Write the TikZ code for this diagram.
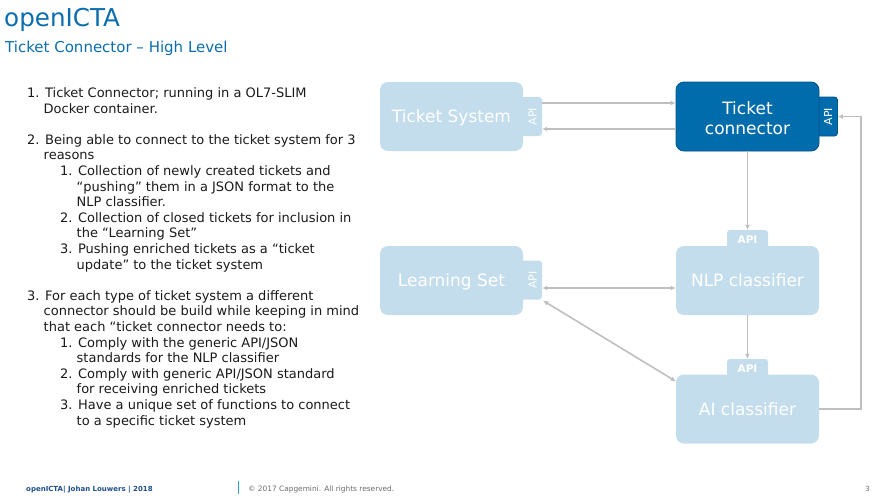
\documentclass[tikz,border=0pt]{standalone}
\usepackage{fontspec}
\setmainfont{DejaVu Sans}
\usetikzlibrary{arrows.meta}
\definecolor{titleblue}{HTML}{0B6DAE}
\definecolor{paleblue}{HTML}{C3DDEC}
\definecolor{deepblue}{HTML}{006CAB}
\definecolor{deepedge}{HTML}{00548A}
\definecolor{linkgray}{HTML}{BFBFBF}
\definecolor{bodytext}{HTML}{1A1A1A}
\definecolor{footblue}{HTML}{1F4E8C}
\definecolor{footrule}{HTML}{29A3DD}
\definecolor{footgray}{HTML}{6B6B6B}
\tikzset{
  box/.style={rectangle, rounded corners=8pt, minimum width=143pt, minimum height=69pt,
    inner sep=0pt, fill=paleblue, text=white, align=center, text depth=0pt,
    font=\fontsize{17}{20}\selectfont},
  darkbox/.style={box, fill=deepblue, draw=deepedge, line width=0.8pt},
  boxtext/.style={inner sep=0pt, text=white, align=center, font=\fontsize{17}{20}\selectfont},
  sidetab/.style={rectangle, rounded corners=3pt, minimum width=24pt, minimum height=39pt,
    inner sep=0pt, fill=paleblue},
  darktab/.style={sidetab, fill=deepblue, draw=deepedge, line width=0.8pt},
  toptab/.style={rectangle, rounded corners=3pt, minimum width=41pt, minimum height=24pt,
    inner sep=0pt, fill=paleblue},
  tablabel/.style={text=white, inner sep=0pt, font=\fontsize{11}{12}\selectfont},
  link/.style={draw=linkgray, line width=1.6pt, -{Latex[length=5pt,width=5pt]}},
  duallink/.style={link, {Latex[length=5pt,width=5pt]}-{Latex[length=5pt,width=5pt]}},
  bodyline/.style={anchor=base west, inner sep=0pt, text=bodytext,
    font=\fontsize{13}{15.6}\selectfont},
}
\begin{document}
\begin{tikzpicture}[x=1pt,y=-1pt]
\useasboundingbox (0,0) rectangle (886,498);

% heading
\node[anchor=base west, inner sep=0pt, text=titleblue, font=\fontsize{24.6}{28}\selectfont]
  (title) at (4,26.5) {openICTA};
\node[anchor=base west, inner sep=0pt, text=titleblue, font=\fontsize{15}{18}\selectfont]
  (subtitle) at (5,52.5) {Ticket Connector – High Level};

% numbered description
\node[bodyline] (t01) at (27,97.5)  {1. Ticket Connector; running in a OL7-SLIM};
\node[bodyline] (t02) at (43.5,113.1) {Docker container.};
\node[bodyline] (t03) at (27,144.3) {2. Being able to connect to the ticket system for 3};
\node[bodyline] (t04) at (43.5,159.9) {reasons};
\node[bodyline] (t05) at (60,175.5) {1. Collection of newly created tickets and};
\node[bodyline] (t06) at (76.5,191.1) {“pushing” them in a JSON format to the};
\node[bodyline] (t07) at (76.5,206.7) {NLP classifier.};
\node[bodyline] (t08) at (60,222.3) {2. Collection of closed tickets for inclusion in};
\node[bodyline] (t09) at (76.5,237.9) {the “Learning Set”};
\node[bodyline] (t10) at (60,253.5) {3. Pushing enriched tickets as a “ticket};
\node[bodyline] (t11) at (76.5,269.1) {update” to the ticket system};
\node[bodyline] (t12) at (27,300.3) {3. For each type of ticket system a different};
\node[bodyline] (t13) at (43.5,315.9) {connector should be build while keeping in mind};
\node[bodyline] (t14) at (43.5,331.5) {that each “ticket connector needs to:};
\node[bodyline] (t15) at (60,347.1) {1. Comply with the generic API/JSON};
\node[bodyline] (t16) at (76.5,362.7) {standards for the NLP classifier};
\node[bodyline] (t17) at (60,378.3) {2. Comply with generic API/JSON standard};
\node[bodyline] (t18) at (76.5,393.9) {for receiving enriched tickets};
\node[bodyline] (t19) at (60,409.5) {3. Have a unique set of functions to connect};
\node[bodyline] (t20) at (76.5,425.1) {to a specific ticket system};

% API tabs (drawn first, boxes overlap their inner edge)
\node[sidetab] (tsapi) at (530,116.5) {};
\node[darktab] (tcapi) at (825.5,116.5) {};
\node[sidetab] (lsapi) at (530,280) {};
\node[toptab]  (nlpapi) at (747.5,242) {};
\node[toptab]  (aiapi)  at (747.5,371) {};

% components
\node[box] (ts) at (451.5,116.5) {Ticket System};
\node[darkbox] (tc) at (747.5,116.5) {};
\node[boxtext] (tctxt) at (747.5,118) {Ticket\\connector};
\node[box] (ls) at (451.5,280.5) {Learning Set};
\node[box] (nlp) at (747.5,280.5) {NLP classifier};
\node[box] (ai) at (747.5,409) {AI classifier};

% tab captions
\node[tablabel, rotate=90] (tsapitxt) at (532.5,116.5) {API};
\node[tablabel, rotate=90] (tcapitxt) at (828,116.5) {API};
\node[tablabel, rotate=90] (lsapitxt) at (532.5,280) {API};
\node[tablabel, font=\fontsize{10.5}{12}\selectfont\bfseries] (nlpapitxt) at (747.5,240) {API};
\node[tablabel, font=\fontsize{10.5}{12}\selectfont\bfseries] (aiapitxt)  at (747.5,369) {API};

% connectors
\draw[link] ([yshift=13.5pt]tsapi.east) -- ([yshift=13.5pt]tc.west);
\draw[link] ([yshift=-12.5pt]tc.west) -- ([yshift=-12.5pt]tsapi.east);
\draw[link] (tc.south) -- (nlpapi.north);
\draw[link] (nlp.south) -- (aiapi.north);
\draw[duallink] ([yshift=-8pt]lsapi.east) -- ([yshift=-7.5pt]nlp.west);
\draw[duallink] ([xshift=1pt,yshift=-1pt]lsapi.south east) -- ([yshift=-7pt]ai.north west);
\draw[link] (ai.east) -- ++(42,0) |- (tcapi.east);

% footer
\node[anchor=base west, inner sep=0pt, text=footblue, font=\fontsize{7}{9}\selectfont\bfseries]
  (foot) at (26,491) {openICTA| Johan Louwers | 2018};
\draw[footrule, line width=1.4pt] (238.5,481) coordinate (rulea) -- (238.5,494) coordinate (ruleb);
\node[anchor=base west, inner sep=0pt, text=footgray, font=\fontsize{7.4}{9}\selectfont]
  (copy) at (248,491) {© 2017 Capgemini. All rights reserved.};
\node[anchor=base east, inner sep=0pt, text=footgray, font=\fontsize{7}{9}\selectfont]
  (page) at (870,491) {3};
\end{tikzpicture}
\end{document}
